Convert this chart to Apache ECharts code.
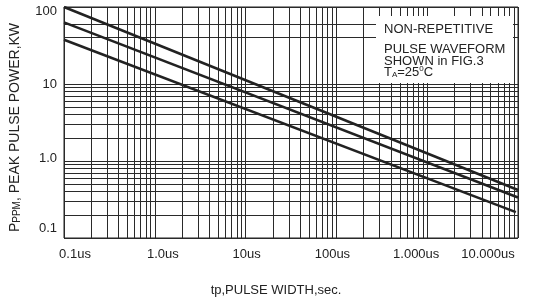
<!DOCTYPE html>
<html>
<head>
<meta charset="utf-8">
<script src="https://cdn.jsdelivr.net/npm/echarts@6/dist/echarts.min.js"></script>
<style>
  html, body { margin: 0; padding: 0; background: #fff; }
  #chart { width: 536px; height: 302px; }
</style>
</head>
<body>
<div id="chart"></div>
<script>
// pulse width in us, peak pulse power in kW (ends of each rating line)
const widthHigh = [0.1, 10000];
const powerHigh = [100, 0.42];
const widthMid = [0.1, 10000];
const powerMid = [63, 0.336];
const widthLow = [0.1, 9470];
const powerLow = [37.6, 0.217];

// axis decades and their labels
const xDecades = [0.1, 1, 10, 100, 1000, 10000];
const xLabels = ["0.1us", "1.0us", "10us", "100us", "1.000us", "10.000us"];
const yDecades = [0.1, 1, 10, 100];
const yLabels = ["0.1", "1.0", "10", "100"];
const gridSteps = [1, 2, 3, 4, 5, 6, 7, 8, 9];
const topDecadeSteps = [1, 4, 6]; // the printed grid only has a few lines above 10

function gridValues(decades, lastSteps) {
  const out = [];
  for (let i = 0; i < decades.length - 1; i++) {
    const steps = (lastSteps && i === decades.length - 2) ? lastSteps : gridSteps;
    steps.forEach(function (s) { out.push(decades[i] * s); });
  }
  out.push(decades[decades.length - 1]);
  return out;
}
function pairs(xs, ys) {
  return xs.map(function (x, i) { return [x, ys[i]]; });
}

const xGrid = gridValues(xDecades);
const yGrid = gridValues(yDecades, topDecadeSteps);

const ink = "#222";
const font = "'Liberation Sans', Arial, sans-serif";

var myChart = echarts.init(document.getElementById("chart"));
var option = {
  animation: false,
  backgroundColor: "#fff",
  grid: {
    left: 62, right: 18, top: 7, bottom: 62,
    show: true, borderColor: "#222", borderWidth: 1,
  },
  xAxis: {
    type: "log",
    logBase: 10,
    min: xDecades[0],
    max: xDecades[xDecades.length - 1],
    axisLine: { show: false },
    axisTick: { show: false },
    splitLine: { show: false },
    axisLabel: {
      show: true,
      showMinLabel: true,
      showMaxLabel: true,
      margin: 10,
      color: ink,
      fontFamily: font,
      fontSize: 13,
      formatter: function (value, index) {
        return "{p" + index + "|" + xLabels[index] + "}";
      },
      rich: {
        p0: { padding: [0, 0, 0, 22] },
        p1: { padding: [0, 0, 0, 16] },
        p2: { padding: [0, 0, 0, 2] },
        p3: { padding: [0, 8, 0, 0] },
        p4: { padding: [0, 22, 0, 0] },
        p5: { padding: [0, 60, 0, 0] },
      },
    },
    name: "tp,PULSE WIDTH,sec.",
    nameLocation: "middle",
    nameGap: 46,
    nameTextStyle: { color: ink, fontFamily: font, fontSize: 13, padding: [0, 30, 0, 0] },
  },
  yAxis: {
    type: "log",
    logBase: 10,
    min: yDecades[0],
    max: yDecades[yDecades.length - 1],
    axisLine: { show: false },
    axisTick: { show: false },
    splitLine: { show: false },
    axisLabel: {
      show: true,
      showMinLabel: true,
      showMaxLabel: true,
      margin: 7,
      color: ink,
      fontFamily: font,
      fontSize: 13,
      formatter: function (value, index) {
        return "{q" + index + "|" + yLabels[index] + "}";
      },
      rich: {
        q0: { padding: [0, 0, 20, 0] },
        q1: { padding: [0, 0, 6, 0] },
        q2: { padding: [0, 0, 0, 0] },
        q3: { padding: [9, 0, 0, 0] },
      },
    },
    name: "P{s|PPM}, PEAK PULSE POWER,KW",
    nameLocation: "middle",
    nameRotate: 90,
    nameGap: 42,
    nameTextStyle: {
      color: ink, fontFamily: font, fontSize: 14, padding: [0, 10, 0, 0],
      rich: { s: { fontSize: 10, color: ink, fontFamily: font, verticalAlign: "bottom" } },
    },
  },
  series: [
    {
      name: "grid",
      type: "line",
      data: [],
      z: 1,
      silent: true,
      markLine: {
        silent: true,
        animation: false,
        symbol: ["none", "none"],
        label: { show: false },
        lineStyle: { color: "#2a2a2a", width: 1, type: "solid", opacity: 1 },
        data: xGrid.map(function (v) { return { xAxis: v }; })
          .concat(yGrid.map(function (v) { return { yAxis: v }; })),
      },
    },
    {
      name: "high",
      type: "line",
      z: 10,
      showSymbol: false,
      lineStyle: { color: ink, width: 2.5 },
      data: pairs(widthHigh, powerHigh),
    },
    {
      name: "mid",
      type: "line",
      z: 10,
      showSymbol: false,
      lineStyle: { color: ink, width: 2.5 },
      data: pairs(widthMid, powerMid),
    },
    {
      name: "low",
      type: "line",
      z: 10,
      showSymbol: false,
      lineStyle: { color: ink, width: 2.5 },
      data: pairs(widthLow, powerLow),
    },
  ],
  graphic: [
    { type: "rect", z: 100, shape: { x: 376, y: 16, width: 137, height: 67 }, style: { fill: "#fff" } },
    { type: "text", z: 101, x: 384, y: 29, style: { text: "NON-REPETITIVE", fill: ink, font: "13px " + font, verticalAlign: "middle" } },
    { type: "text", z: 101, x: 384, y: 49, style: { text: "PULSE WAVEFORM", fill: ink, font: "13px " + font, verticalAlign: "middle" } },
    { type: "text", z: 101, x: 384, y: 61.5, style: { text: "SHOWN in FIG.3", fill: ink, font: "13px " + font, verticalAlign: "middle" } },
    {
      type: "text", z: 101, x: 384, y: 72,
      style: {
        text: "{n|T}{b|A}{n|=25}{t|0}{n|C}",
        verticalAlign: "middle",
        rich: {
          n: { fontSize: 13, fontFamily: font, fill: ink, lineHeight: 14, verticalAlign: "middle" },
          b: { fontSize: 8, fontFamily: font, fill: ink, lineHeight: 14, verticalAlign: "bottom" },
          t: { fontSize: 8, fontFamily: font, fill: ink, lineHeight: 14, verticalAlign: "top" },
        },
      },
    },
  ],
};
myChart.setOption(option);
</script>
</body>
</html>
